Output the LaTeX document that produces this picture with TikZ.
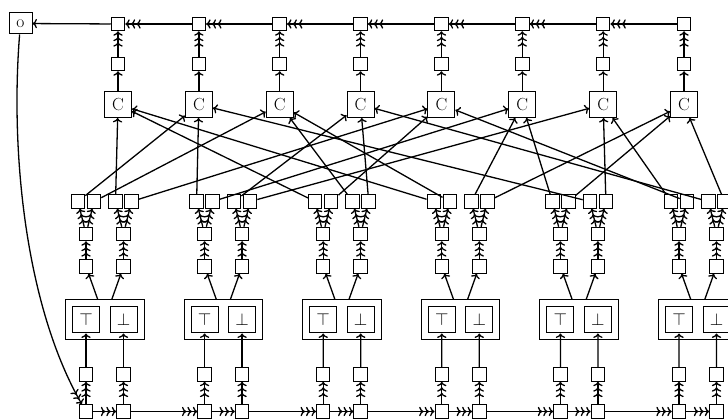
\documentclass[tikz,border=0pt]{standalone}
\usepackage{fontspec}
\usetikzlibrary{arrows.meta,fit,calc}
\begin{document}
\begin{tikzpicture}[x=1pt,y=-1pt,
  sq/.style={draw=black,line width=1pt,minimum width=13.5pt,minimum height=13.5pt,inner sep=0pt},
  cbox/.style={draw=black,line width=1pt,minimum width=27pt,minimum height=26pt,inner sep=0pt,font=\fontsize{17.5}{20}\selectfont},
  obox/.style={draw=black,line width=1pt,minimum width=23pt,minimum height=21pt,inner sep=0pt,font=\fontsize{17.5}{20}\selectfont},
  vbox/.style={draw=black,line width=1pt,inner sep=6.5pt},
  wire/.style={line width=1.3pt},
  one/.style={wire,-{To[]}},
  three/.style={wire,-{To[sep=1pt]To[sep=1pt]To[]}},
]
\useasboundingbox (0,0) rectangle (728,419);
% top part
\node[obox] (o) at (20.5,23.5) {o};
\foreach \j in {1,...,8} {
  \pgfmathsetmacro\xx{118+80.86*(\j-1)}
  \node[sq] (t\j) at (\xx,24) {};
  \node[sq] (u\j) at (\xx,64) {};
  \node[cbox] (C\j) at (\xx,104.5) {C};
}
% columns
\foreach \c/\x in {1/86,2/123.5,3/204.6,4/242.1,5/323.2,6/360.7,7/441.8,8/479.3,9/560.4,10/597.9,11/679,12/716.5} {
  \node[sq] (b\c) at (\x,411.5) {};
  \node[sq] (d\c) at (\x,374.5) {};
  \node[sq] (e\c) at (\x,266.5) {};
  \node[sq] (f\c) at (\x,234) {};
  \node[sq] (pa\c) at (\x-8,201.5) {};
  \node[sq] (pb\c) at (\x+8,201.5) {};
}
% variable boxes
\foreach \i in {1,...,6} {
  \pgfmathsetmacro\xa{86+118.6*(\i-1)}
  \pgfmathsetmacro\xb{\xa+37.5}
  \node[cbox] (T\i) at (\xa,320) {$\top$};
  \node[cbox] (F\i) at (\xb,320) {$\bot$};
  \node[vbox,fit=(T\i)(F\i)] (V\i) {};
  \coordinate (vl\i) at ($(V\i.north)+(-7,0)$);
  \coordinate (vr\i) at ($(V\i.north)+(7,0)$);
}
% vertical chains in columns
\foreach \i [evaluate=\i as \ca using int(2*\i-1), evaluate=\i as \cb using int(2*\i)] in {1,...,6} {
  \draw[one] (d\ca) -- (T\i);
  \draw[one] (d\cb) -- (F\i);
  \draw[one] (vl\i) -- (e\ca);
  \draw[one] (vr\i) -- (e\cb);
}
\foreach \c in {1,...,12} {
  \draw[three] (b\c) -- (d\c);
  \draw[three] (e\c) -- (f\c);
  \draw[three] (f\c) -- (pa\c);
  \draw[three] (f\c) -- (pb\c);
}
% bottom chain
\foreach \c [evaluate=\c as \n using int(\c+1)] in {1,...,11} {
  \draw[three] (b\c) -- (b\n);
}
% top chain
\foreach \j in {1,...,8} {
  \draw[one] (C\j) -- (u\j);
  \draw[three] (u\j) -- (t\j);
}
\foreach \j [evaluate=\j as \n using int(\j+1)] in {1,...,7} {
  \draw[three] (t\n) -- (t\j);
}
\draw[one] (t1) -- (o);
\draw[three] (o) .. controls (10,154) and (26,307) .. (b1);
% clause wiring
\foreach \s/\k in {a1/2,b1/3,a2/1,b2/5,a3/2,b3/6,a4/4,b4/7,a5/1,b5/5,a6/3,b6/4,a7/1,b7/3,a8/6,b8/8,a9/6,b9/8,a10/2,b10/7,a11/7,b11/5,a12/4,b12/8} {
  \draw[one] (p\s) -- (C\k);
}
\end{tikzpicture}
\end{document}
